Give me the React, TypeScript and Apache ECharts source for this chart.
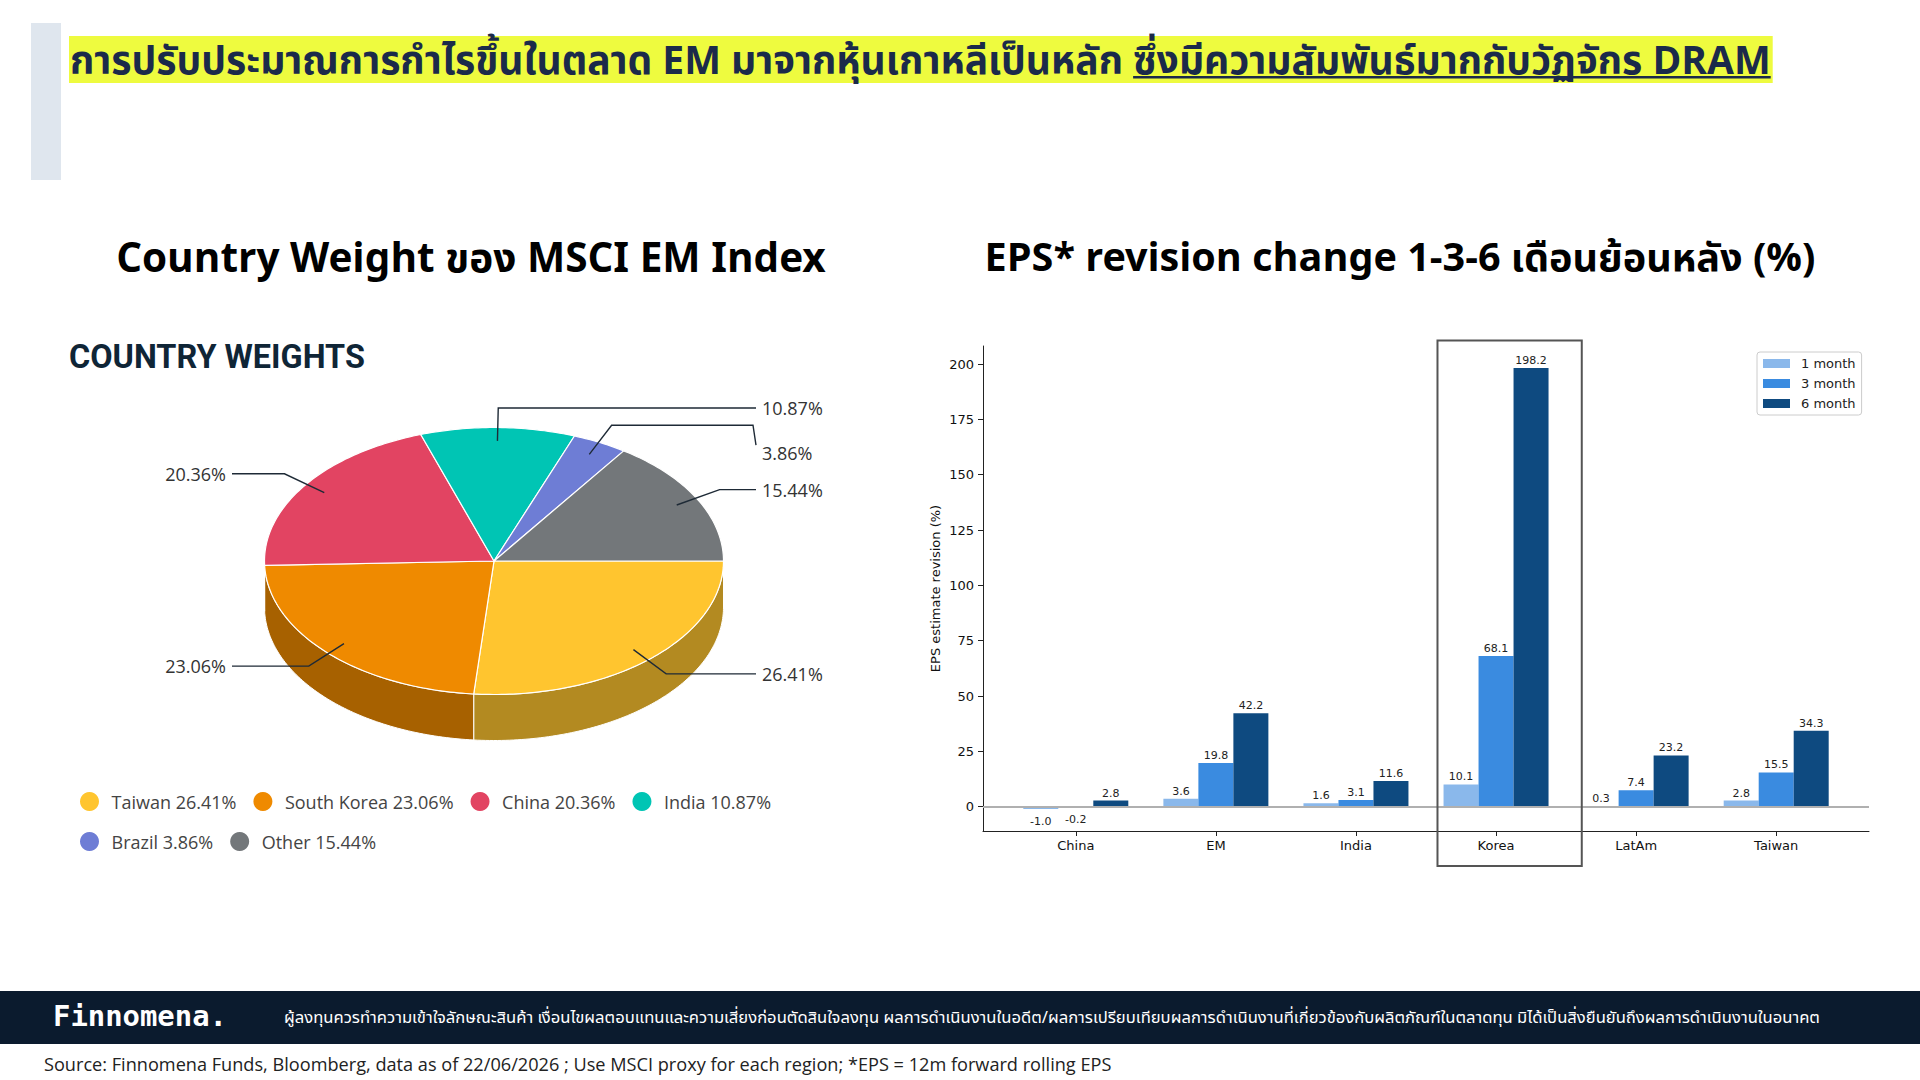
import React, { useEffect, useRef } from 'react';
import * as echarts from 'echarts';

// ---------------- data ----------------
const titlePart1 = 'การปรับประมาณการกำไรขึ้นในตลาด EM มาจากหุ้นเกาหลีเป็นหลัก ';
const titlePart2 = 'ซึ่งมีความสัมพันธ์มากกับวัฏจักร DRAM';
const leftHeading = 'Country Weight ของ MSCI EM Index';
const rightHeading = 'EPS* revision change 1-3-6 เดือนย้อนหลัง (%)';
const pieTitle = 'COUNTRY WEIGHTS';
const disclaimer =
  'ผู้ลงทุนควรทำความเข้าใจลักษณะสินค้า เงื่อนไขผลตอบแทนและความเสี่ยงก่อนตัดสินใจลงทุน ผลการดำเนินงานในอดีต/ผลการเปรียบเทียบผลการดำเนินงานที่เกี่ยวข้องกับผลิตภัณฑ์ในตลาดทุน มิได้เป็นสิ่งยืนยันถึงผลการดำเนินงานในอนาคต';
const sourceNote =
  'Source: Finnomena Funds, Bloomberg, data as of 22/06/2026 ; Use MSCI proxy for each region; *EPS = 12m forward rolling EPS';
const brand = 'Finnomena.';

const pieNames = ['Taiwan', 'South Korea', 'China', 'India', 'Brazil', 'Other'];
const pieWeights = [26.41, 23.06, 20.36, 10.87, 3.86, 15.44];
const pieColors = ['#FFC52F', '#EF8A00', '#E24462', '#00C5B4', '#6E7DD5', '#73777A'];

const epsCategories = ['China', 'EM', 'India', 'Korea', 'LatAm', 'Taiwan'];
const epsSeriesNames = ['1 month', '3 month', '6 month'];
const eps1m = [-1.0, 3.6, 1.6, 10.1, 0.3, 2.8];
const eps3m = [-0.2, 19.8, 3.1, 68.1, 7.4, 15.5];
const eps6m = [2.8, 42.2, 11.6, 198.2, 23.2, 34.3];
const epsColors = ['#8AB8EB', '#3A8BE0', '#0E4A80'];
const yTickValues = [0, 25, 50, 75, 100, 125, 150, 175, 200];
const highlightCategory = 'Korea';

// ---------------- styling / layout ----------------
const THAI = "'Noto Sans Thai', 'Noto Sans Thai UI', 'Noto Sans', 'Open Sans', sans-serif";
const MPL = "'DejaVu Sans', sans-serif";
const PIE = { cx: 494, cy: 561, rx: 229.5, ry: 133.5, depth: 46 };
const LBL = { anchorK: 0.9, elbowRx: 255, elbowRy: 153, endDx: 262, textGap: 6, minGap: 24, push: 45 };
const HILITE = { dx0: -0.418, dx1: 0.612, yTop: 210.7, yBottom: -26.8 };

const pieTotal = pieWeights.reduce((a, b) => a + b, 0);
const pieStarts = pieWeights.map((_, i) =>
  (pieWeights.slice(0, i).reduce((a, b) => a + b, 0) / pieTotal) * 360
);

function shade(hex: string, f: number) {
  const n = parseInt(hex.slice(1), 16);
  const r = Math.round(((n >> 16) & 255) * f);
  const g = Math.round(((n >> 8) & 255) * f);
  const b = Math.round((n & 255) * f);
  return `rgb(${r},${g},${b})`;
}

function ell(theta: number, k = 1, dy = 0): number[] {
  const t = (theta * Math.PI) / 180;
  return [PIE.cx + k * PIE.rx * Math.cos(t), PIE.cy + k * PIE.ry * Math.sin(t) + dy];
}

function arc(a0: number, a1: number, k = 1, dy = 0): number[][] {
  const n = Math.max(2, Math.ceil(Math.abs(a1 - a0)));
  const pts: number[][] = [];
  for (let j = 0; j <= n; j++) pts.push(ell(a0 + ((a1 - a0) * j) / n, k, dy));
  return pts;
}

type Lab = { points: number[][]; tx: number; y: number; right: boolean };

function layoutLabels(): Lab[] {
  const items = pieWeights.map((w, i) => {
    const a0 = pieStarts[i];
    const a1 = a0 + (w / pieTotal) * 360;
    const mid = (a0 + a1) / 2;
    const t = (mid * Math.PI) / 180;
    const right = Math.cos(t) >= 0;
    const natY = PIE.cy + LBL.elbowRy * Math.sin(t);
    return { i, mid, t, right, natY, y: natY };
  });
  [true, false].forEach((side) => {
    const s = items.filter((it) => it.right === side).sort((a, b) => a.natY - b.natY);
    for (let k = 1; k < s.length; k++) {
      if (s[k].y - s[k - 1].y < LBL.minGap) s[k].y = s[k - 1].y + LBL.push;
    }
  });
  return items.map((it) => {
    const anchor = ell(it.mid, LBL.anchorK);
    const elbow = [PIE.cx + LBL.elbowRx * Math.cos(it.t), it.natY];
    const endX = it.right ? PIE.cx + LBL.endDx : PIE.cx - LBL.endDx;
    const pts =
      Math.abs(it.y - it.natY) < 0.5
        ? [anchor, elbow, [endX, it.natY]]
        : [anchor, elbow, [endX - 3, it.natY], [endX, it.y - 8]];
    return { points: pts, tx: it.right ? endX + LBL.textGap : endX - LBL.textGap, y: it.y, right: it.right };
  });
}

function renderSlice(i: number, lab: Lab) {
  const color = pieColors[i];
  const a0 = pieStarts[i];
  const a1 = a0 + (pieWeights[i] / pieTotal) * 360;
  const children: any[] = [];
  const s0 = Math.max(a0, 0);
  const s1 = Math.min(a1, 180);
  if (s1 > s0) {
    const top = arc(s0, s1, 1, 0);
    const bot = arc(s0, s1, 1, PIE.depth).reverse();
    children.push({
      type: 'polygon',
      z2: 1,
      shape: { points: top.concat(bot) },
      style: { fill: shade(color, 0.7), stroke: '#ffffff', lineWidth: 1 },
    });
  }
  children.push({
    type: 'polygon',
    z2: 10,
    shape: { points: [[PIE.cx, PIE.cy], ...arc(a0, a1, 1, 0)] },
    style: { fill: color, stroke: '#ffffff', lineWidth: 1.2, lineJoin: 'round' },
  });
  children.push({
    type: 'polyline',
    z2: 20,
    shape: { points: lab.points },
    style: { fill: 'none', stroke: '#1e2a36', lineWidth: 1.4 },
  });
  children.push({
    type: 'text',
    z2: 21,
    style: {
      text: pieWeights[i].toFixed(2) + '%',
      x: lab.tx,
      y: lab.y,
      fill: '#333333',
      fontSize: 18,
      fontFamily: "'Open Sans', sans-serif",
      align: lab.right ? 'left' : 'right',
      textAlign: lab.right ? 'left' : 'right',
      verticalAlign: 'middle',
      textVerticalAlign: 'middle',
    },
  });
  return { type: 'group', children };
}

function measure(text: string, weight: string, size: number, family: string) {
  const c = document.createElement('canvas').getContext('2d');
  if (!c) return 0;
  c.font = `${weight} ${size}px ${family}`;
  return c.measureText(text).width;
}

function fit(text: string, weight: string, family: string, target: number, base: number) {
  const w = measure(text, weight, base, family);
  if (!w) return base;
  const s = (base * target) / w;
  return Math.max(base * 0.75, Math.min(base * 1.3, s));
}

function txt(text: string, x: number, y: number, size: number, weight: string, family: string, fill: string, align = 'left') {
  return {
    type: 'text',
    x,
    y,
    style: {
      text,
      fill,
      fontSize: size,
      fontWeight: weight,
      fontFamily: family,
      align,
      textAlign: align,
      verticalAlign: 'middle',
      textVerticalAlign: 'middle',
    },
  };
}

function buildOption() {
  // --- header ---
  const titleSize = fit(titlePart1 + titlePart2, 'bold', THAI, 1704, 30);
  const w1 = measure(titlePart1, 'bold', titleSize, THAI);
  const w2 = measure(titlePart2, 'bold', titleSize, THAI);
  const tx0 = 70;
  const headSizeL = fit(leftHeading, 'bold', THAI, 710, 38);
  const headSizeR = fit(rightHeading, 'bold', THAI, 831, 38);
  const pieTitleSize = fit(pieTitle, 'bold', "Roboto, sans-serif", 296, 29);
  const discSize = fit(disclaimer, 'normal', THAI, 1537, 15);
  const srcSize = fit(sourceNote, 'normal', "'Open Sans', sans-serif", 1068, 18);
  const brandSize = fit(brand, 'bold', "'DejaVu Sans Mono', monospace", 174, 29);

  const graphic: any[] = [
    { type: 'rect', shape: { x: 31, y: 23, width: 30, height: 157 }, style: { fill: '#dfe6ee' } },
    { type: 'rect', shape: { x: tx0 - 1, y: 36, width: w1 + w2 + 3, height: 47 }, style: { fill: '#eefb3f' } },
    txt(titlePart1, tx0, 62, titleSize, 'bold', THAI, '#1b2a4a'),
    txt(titlePart2, tx0 + w1, 62, titleSize, 'bold', THAI, '#1b2a4a'),
    { type: 'rect', shape: { x: tx0 + w1, y: 76, width: w2, height: 2.5 }, style: { fill: '#1b2a4a' } },
    txt(leftHeading, 471, 259, headSizeL, 'bold', THAI, '#000000', 'center'),
    txt(rightHeading, 1400, 259, headSizeR, 'bold', THAI, '#000000', 'center'),
    txt(pieTitle, 69, 357, pieTitleSize, 'bold', 'Roboto, sans-serif', '#0f2536'),
    { type: 'rect', shape: { x: 0, y: 991, width: 1920, height: 53 }, style: { fill: '#0b1b2e' } },
    txt(brand, 53, 1016, brandSize, 'bold', "'DejaVu Sans Mono', monospace", '#ffffff'),
    txt(disclaimer, 284, 1017, discSize, 'normal', THAI, '#ffffff'),
    txt(sourceNote, 44, 1064, srcSize, 'normal', "'Open Sans', sans-serif", '#222222'),
  ];

  // --- pie (3D-looking) ---
  const labs = layoutLabels();
  const pieSeriesNames = pieNames.map((n, i) => `${n} ${pieWeights[i].toFixed(2)}%`);
  const pieSeries = pieNames.map((_, i) => ({
    type: 'custom',
    name: pieSeriesNames[i],
    coordinateSystem: 'none',
    silent: true,
    itemStyle: { color: pieColors[i] },
    data: [pieWeights[i]],
    renderItem: () => renderSlice(i, labs[i]),
  }));

  // --- bars ---
  const epsValues = [eps1m, eps3m, eps6m];
  const all = ([] as number[]).concat(...epsValues, [0]);
  const vMin = Math.min(...all);
  const vMax = Math.max(...all);
  const yPad = (vMax - vMin) * 0.05;
  const n = epsCategories.length;
  const groupHalf = 0.375;
  const xPad = (n - 1 + 2 * groupHalf) * 0.05;
  const xMin = -groupHalf - xPad;
  const xMax = n - 1 + groupHalf + xPad;
  const xTicks = epsCategories.map((_, i) => i);

  const barSeries = epsSeriesNames.map((name, k) => ({
    type: 'bar',
    name,
    barWidth: 35,
    barGap: '0%',
    itemStyle: { color: epsColors[k] },
    label: {
      show: true,
      formatter: (p: any) => Number(p.value[1]).toFixed(1),
      fontSize: 11,
      fontFamily: MPL,
      color: '#222222',
    },
    data: epsCategories.map((_, i) => {
      const v = epsValues[k][i];
      return {
        value: [i, v],
        label: { position: v < 0 ? 'bottom' : 'top', distance: v < 0 ? 7 : 2 },
      };
    }),
    ...(k === 0
      ? {
          markLine: {
            silent: true,
            symbol: ['none', 'none'],
            label: { show: false },
            lineStyle: { color: '#b0b0b0', width: 2, type: 'solid' },
            data: [{ yAxis: 0 }],
          },
        }
      : {}),
  }));

  const hiIdx = epsCategories.indexOf(highlightCategory);
  const hiliteSeries = {
    type: 'custom',
    name: 'highlight',
    silent: true,
    clip: false,
    z: 5,
    data: [[hiIdx, 0]],
    renderItem: (_p: any, api: any) => {
      const c = api.value(0);
      const p0 = api.coord([c + HILITE.dx0, HILITE.yTop]);
      const p1 = api.coord([c + HILITE.dx1, HILITE.yBottom]);
      return {
        type: 'rect',
        shape: { x: p0[0], y: p0[1], width: p1[0] - p0[0], height: p1[1] - p0[1] },
        style: { fill: 'none', stroke: '#555555', lineWidth: 2 },
      };
    },
  };

  const pieLegendBase = {
    orient: 'horizontal',
    left: 80,
    icon: 'circle',
    itemWidth: 34,
    itemHeight: 19,
    itemGap: 17,
    padding: 0,
    selectedMode: false,
    textStyle: { fontFamily: "'Open Sans', sans-serif", fontSize: 18, color: '#444444' },
  };

  return {
    animation: false,
    backgroundColor: '#ffffff',
    graphic,
    legend: [
      { ...pieLegendBase, top: 792, data: pieSeriesNames.slice(0, 4) },
      { ...pieLegendBase, top: 832, data: pieSeriesNames.slice(4) },
      {
        data: epsSeriesNames,
        orient: 'vertical',
        left: 1757,
        top: 352,
        icon: 'rect',
        itemWidth: 27,
        itemHeight: 9,
        itemGap: 7,
        selectedMode: false,
        backgroundColor: '#ffffff',
        borderColor: '#cccccc',
        borderWidth: 1,
        borderRadius: 3,
        padding: [5, 6, 5, 6],
        textStyle: { fontFamily: MPL, fontSize: 13, color: '#222222', padding: [0, 0, 0, 6] },
      },
    ],
    grid: { left: 983, top: 346, width: 886, height: 485, containLabel: false },
    xAxis: {
      type: 'value',
      min: xMin,
      max: xMax,
      axisLine: { show: true, onZero: false, lineStyle: { color: '#222222', width: 1 } },
      axisTick: { show: true, customValues: xTicks, length: 5, lineStyle: { color: '#222222' } },
      axisLabel: {
        customValues: xTicks,
        formatter: (v: number) => epsCategories[Math.round(v)] ?? '',
        margin: 8,
        fontFamily: MPL,
        fontSize: 13,
        color: '#111111',
      },
      splitLine: { show: false },
    },
    yAxis: {
      type: 'value',
      min: vMin - yPad,
      max: vMax + yPad,
      name: 'EPS estimate revision (%)',
      nameLocation: 'middle',
      nameRotate: 90,
      nameGap: 41,
      nameTextStyle: { fontFamily: MPL, fontSize: 13, color: '#111111' },
      axisLine: { show: true, onZero: false, lineStyle: { color: '#222222', width: 1 } },
      axisTick: { show: true, customValues: yTickValues, length: 5, lineStyle: { color: '#222222' } },
      axisLabel: { customValues: yTickValues, margin: 9, fontFamily: MPL, fontSize: 13, color: '#111111' },
      splitLine: { show: false },
    },
    series: [...pieSeries, ...barSeries, hiliteSeries],
  };
}

export default function App() {
  const ref = useRef<HTMLDivElement>(null);
  useEffect(() => {
    document.body.style.margin = '0';
    if (!ref.current) return;
    const chart = echarts.init(ref.current, null, { renderer: 'svg' });
    chart.setOption(buildOption() as any);
    return () => chart.dispose();
  }, []);
  return <div ref={ref} style={{ width: 1920, height: 1080, background: '#ffffff' }} />;
}
